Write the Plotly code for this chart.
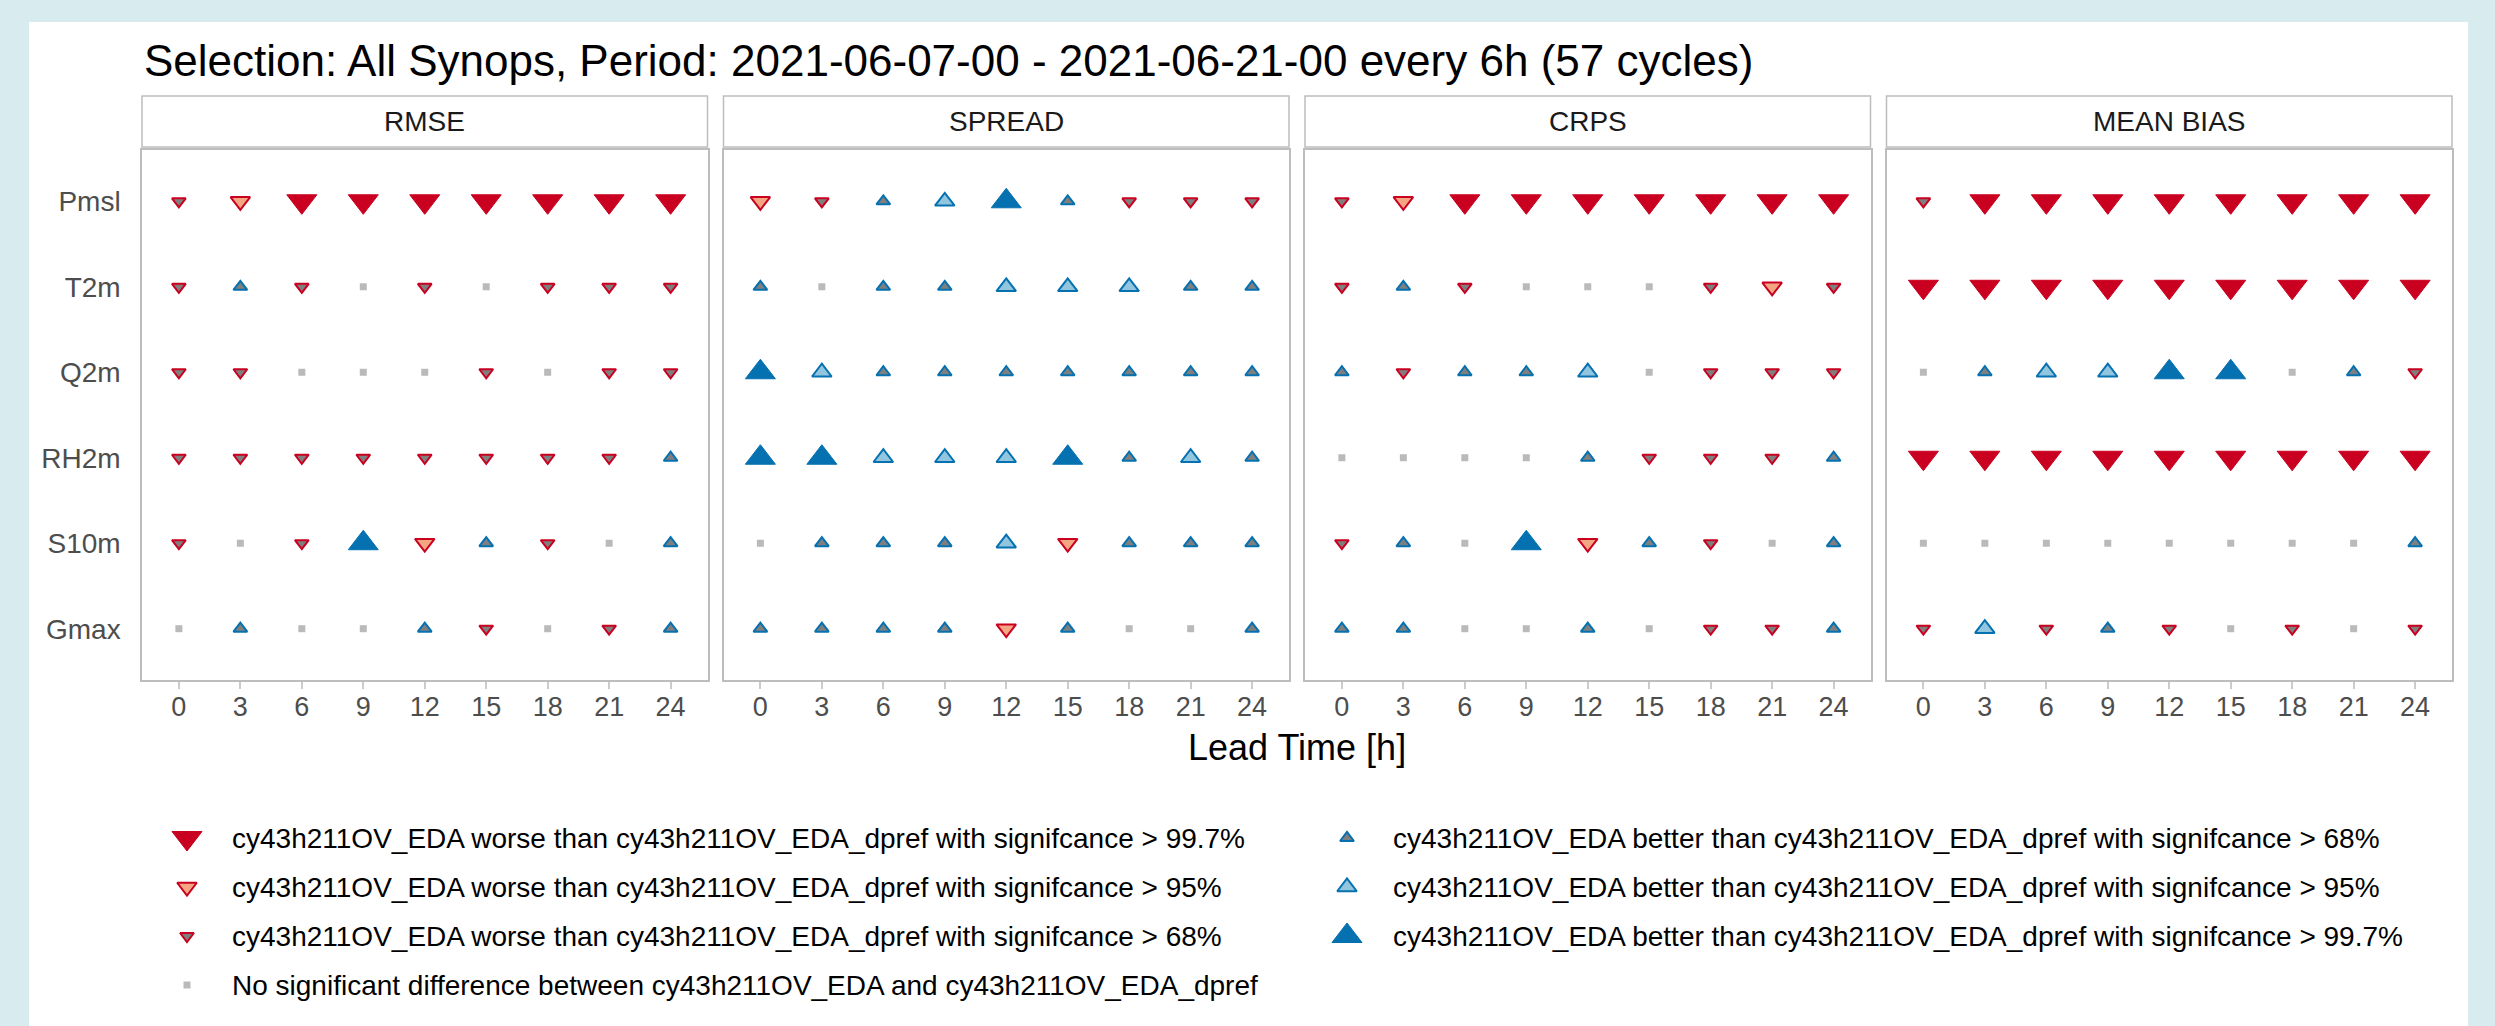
import plotly.graph_objects as go

W, H = 2495, 1026

# ---------------- data ----------------
lead_times = [0, 3, 6, 9, 12, 15, 18, 21, 24]
variables = ["Pmsl", "T2m", "Q2m", "RH2m", "S10m", "Gmax"]
scores = ["RMSE", "SPREAD", "CRPS", "MEAN BIAS"]

# significance class per variable (rows) and lead time (columns)
# -3: worse >99.7%, -2: worse >95%, -1: worse >68%, 0: no sig. diff.,
#  1: better >68%,  2: better >95%,  3: better >99.7%
rmse = [
    [-1, -2, -3, -3, -3, -3, -3, -3, -3],
    [-1, 1, -1, 0, -1, 0, -1, -1, -1],
    [-1, -1, 0, 0, 0, -1, 0, -1, -1],
    [-1, -1, -1, -1, -1, -1, -1, -1, 1],
    [-1, 0, -1, 3, -2, 1, -1, 0, 1],
    [0, 1, 0, 0, 1, -1, 0, -1, 1],
]
spread = [
    [-2, -1, 1, 2, 3, 1, -1, -1, -1],
    [1, 0, 1, 1, 2, 2, 2, 1, 1],
    [3, 2, 1, 1, 1, 1, 1, 1, 1],
    [3, 3, 2, 2, 2, 3, 1, 2, 1],
    [0, 1, 1, 1, 2, -2, 1, 1, 1],
    [1, 1, 1, 1, -2, 1, 0, 0, 1],
]
crps = [
    [-1, -2, -3, -3, -3, -3, -3, -3, -3],
    [-1, 1, -1, 0, 0, 0, -1, -2, -1],
    [1, -1, 1, 1, 2, 0, -1, -1, -1],
    [0, 0, 0, 0, 1, -1, -1, -1, 1],
    [-1, 1, 0, 3, -2, 1, -1, 0, 1],
    [1, 1, 0, 0, 1, 0, -1, -1, 1],
]
mean_bias = [
    [-1, -3, -3, -3, -3, -3, -3, -3, -3],
    [-3, -3, -3, -3, -3, -3, -3, -3, -3],
    [0, 1, 2, 2, 3, 3, 0, 1, -1],
    [-3, -3, -3, -3, -3, -3, -3, -3, -3],
    [0, 0, 0, 0, 0, 0, 0, 0, 1],
    [-1, 2, -1, 1, -1, 0, -1, 0, -1],
]
score_data = [rmse, spread, crps, mean_bias]

exp_a, exp_b = "cy43h211OV_EDA", "cy43h211OV_EDA_dpref"
class_labels = {
    -3: f"{exp_a} worse than {exp_b} with signifcance > 99.7%",
    -2: f"{exp_a} worse than {exp_b} with signifcance > 95%",
    -1: f"{exp_a} worse than {exp_b} with signifcance > 68%",
    0: f"No significant difference between {exp_a} and {exp_b}",
    1: f"{exp_a} better than {exp_b} with signifcance > 68%",
    2: f"{exp_a} better than {exp_b} with signifcance > 95%",
    3: f"{exp_a} better than {exp_b} with signifcance > 99.7%",
}
legend_columns = [[-3, -2, -1, 0], [1, 2, 3]]

title_text = ("Selection: All Synops, Period: 2021-06-07-00 - 2021-06-21-00 "
              "every 6h (57 cycles)")

# ---------------- styles ----------------
FONT = "Liberation Sans, Arial, Helvetica, sans-serif"
RED, BLUE = "#ca0020", "#0571b0"
GREY_FILL = "#7f7f7f"
style = {
    -3: dict(symbol="triangle-down", size=26, color=RED, line=dict(color=RED, width=1)),
    -2: dict(symbol="triangle-down", size=17, color="#f4a582", line=dict(color=RED, width=2)),
    -1: dict(symbol="triangle-down", size=12, color=GREY_FILL, line=dict(color=RED, width=2)),
    0: dict(symbol="square", size=7, color="#bababa", line=dict(color="#bababa", width=0)),
    1: dict(symbol="triangle-up", size=12, color=GREY_FILL, line=dict(color=BLUE, width=2)),
    2: dict(symbol="triangle-up", size=17, color="#92c5de", line=dict(color=BLUE, width=2)),
    3: dict(symbol="triangle-up", size=26, color=BLUE, line=dict(color=BLUE, width=1)),
}


def px_x(px):
    return px / W


def px_y(py):
    return 1 - py / H


panel_left = [142, 723.5, 1305, 1886.5]
panel_w = 565.5
panel_top, panel_bot = 150, 680
strip_top, strip_bot = 96, 147
BORDER = "#bdbdbd"

fig = go.Figure()
layout = dict(
    width=W, height=H,
    margin=dict(l=0, r=0, t=0, b=0),
    paper_bgcolor="#d8ecef",
    plot_bgcolor="rgba(0,0,0,0)",
    font=dict(family=FONT, color="#000000"),
    showlegend=False,
    shapes=[], annotations=[],
)

# white card
layout["shapes"].append(dict(type="rect", xref="paper", yref="paper",
                             x0=px_x(29), x1=px_x(2468), y0=0, y1=px_y(22),
                             fillcolor="white", line=dict(width=0), layer="below"))

for i, (score, data) in enumerate(zip(scores, score_data)):
    n = i + 1
    xa = "x" if n == 1 else f"x{n}"
    ya = "y" if n == 1 else f"y{n}"
    x0 = panel_left[i]
    x1 = x0 + panel_w
    layout[f"xaxis{'' if n == 1 else n}"] = dict(
        domain=[px_x(x0), px_x(x1)], anchor=ya,
        range=[-1.8, 25.8], tickvals=lead_times, ticktext=[str(t) for t in lead_times],
        ticks="outside", ticklen=7, tickwidth=2, tickcolor="#cccccc",
        ticklabelstandoff=-5,
        tickfont=dict(size=27, color="#4d4d4d", family=FONT),
        showgrid=False, zeroline=False,
        showline=True, mirror=True, linecolor=BORDER, linewidth=1.5,
    )
    layout[f"yaxis{'' if n == 1 else n}"] = dict(
        domain=[px_y(panel_bot), px_y(panel_top)], anchor=xa,
        type="category", categoryorder="array", categoryarray=variables,
        range=[5.6, -0.6],
        ticks="", showticklabels=(n == 1), ticklabelstandoff=14,
        tickfont=dict(size=28, color="#4d4d4d", family=FONT),
        showgrid=False, zeroline=False,
        showline=True, mirror=True, linecolor=BORDER, linewidth=1.5,
    )
    # strip
    layout["shapes"].append(dict(type="rect", xref="paper", yref="paper",
                                 x0=px_x(x0), x1=px_x(x1),
                                 y0=px_y(strip_bot), y1=px_y(strip_top),
                                 fillcolor="white", line=dict(color=BORDER, width=1.5)))
    layout["annotations"].append(dict(text=score, xref="paper", yref="paper",
                                      x=px_x((x0 + x1) / 2), y=px_y((strip_top + strip_bot) / 2),
                                      xanchor="center", yanchor="middle", showarrow=False,
                                      font=dict(size=28, color="#1a1a1a", family=FONT)))
    # markers grouped by class
    for code in sorted(style):
        xs, ys = [], []
        for r, var in enumerate(variables):
            for c, lt in enumerate(lead_times):
                if data[r][c] == code:
                    xs.append(lt)
                    ys.append(var)
        if not xs:
            continue
        fig.add_trace(go.Scatter(x=xs, y=ys, xaxis=xa, yaxis=ya, mode="markers",
                                 marker=style[code], name=class_labels[code],
                                 hoverinfo="x+y+name"))

# title
layout["annotations"].append(dict(text=title_text, xref="paper", yref="paper",
                                  x=px_x(142), y=px_y(60), xanchor="left", yanchor="middle",
                                  showarrow=False, font=dict(size=44, color="#000000", family=FONT)))
# x-axis title
layout["annotations"].append(dict(text="Lead Time [h]", xref="paper", yref="paper",
                                  x=px_x((panel_left[0] + panel_left[3] + panel_w) / 2),
                                  y=px_y(747), xanchor="center", yanchor="middle",
                                  showarrow=False, font=dict(size=36, color="#000000", family=FONT)))

# manual legend (keys on a hidden pixel-scaled axis)
leg_top = 790
layout["xaxis5"] = dict(domain=[0, 1], range=[0, W], visible=False, anchor="y5")
layout["yaxis5"] = dict(domain=[0, px_y(leg_top)], range=[H, leg_top], visible=False, anchor="x5")
col_key_x = [187, 1347]
col_text_x = [230, 1391]
row0_y, row_step = 838, 49
for ci, col in enumerate(legend_columns):
    for ri, code in enumerate(col):
        ky = row0_y + ri * row_step
        fig.add_trace(go.Scatter(x=[col_key_x[ci]], y=[ky], xaxis="x5", yaxis="y5",
                                 mode="markers", marker=style[code],
                                 name=class_labels[code], hoverinfo="name"))
        layout["annotations"].append(dict(text=class_labels[code], xref="paper", yref="paper",
                                          x=px_x(col_text_x[ci]), y=px_y(ky),
                                          xanchor="left", yanchor="middle", showarrow=False,
                                          font=dict(size=28, color="#000000", family=FONT)))

fig.update_layout(**layout)
fig.write_html(
    "out.html",
    config={"displayModeBar": False},
    post_script="document.body.style.margin='0';document.body.style.overflow='hidden';",
)
